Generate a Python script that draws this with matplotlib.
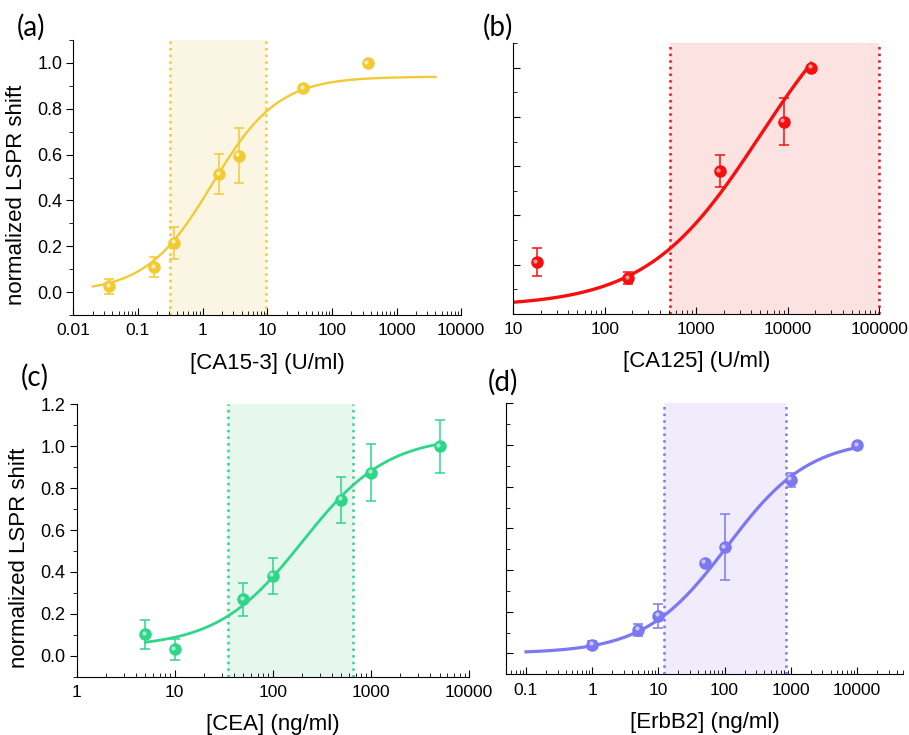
import numpy as np
import matplotlib
matplotlib.use("Agg")
import matplotlib.pyplot as plt
from matplotlib.ticker import LogLocator, FixedLocator, FuncFormatter, MultipleLocator
from matplotlib.transforms import offset_copy

plt.rcParams['font.family'] = ['Liberation Sans', 'DejaVu Sans']

# (a) CA15-3
a_conc = [0.036, 0.18, 0.36, 1.8, 3.6, 36, 360]
a_shift = [0.025, 0.11, 0.215, 0.515, 0.595, 0.89, 1.0]
a_err = [0.033, 0.045, 0.069, 0.087, 0.12, 0.0, 0.0]
a_fit = (0.0, 0.94, 1.4, 0.85)      # A1, A2, k, n (Hill fit)
a_fit_span = (0.02, 4000)
a_linear = (0.31, 9.5)

# (b) CA125
b_conc = [18, 180, 1800, 9000, 18000]
b_shift = [0.21, 0.146, 0.58, 0.78, 1.0]
b_err = [0.056, 0.025, 0.064, 0.096, 0.0]
b_fit = (0.03, 1.42, 5000, 0.7)
b_fit_span = (10, 18000)
b_linear = (520, 100000)

# (c) CEA
c_conc = [5, 10, 50, 100, 500, 1000, 5000]
c_shift = [0.102, 0.03, 0.27, 0.382, 0.744, 0.874, 1.0]
c_err = [0.07, 0.05, 0.078, 0.085, 0.11, 0.137, 0.127]
c_fit = (0.04, 1.05, 200, 1.0)
c_fit_span = (5, 5000)
c_linear = (35, 650)

# (d) ErbB2
d_conc = [1, 5, 10, 50, 100, 1000, 10000]
d_shift = [0.042, 0.113, 0.181, 0.436, 0.511, 0.833, 1.0]
d_err = [0.02, 0.028, 0.057, 0.0, 0.158, 0.035, 0.0]
d_fit = (0.0, 1.03, 110, 0.7)
d_fit_span = (0.1, 10000)
d_linear = (12, 850)


def hill(x, p):
    a1, a2, k, n = p
    return a1 + (a2 - a1) * x**n / (k**n + x**n)


def fmt(v, pos):
    return ('%f' % v).rstrip('0').rstrip('.')


fig = plt.figure(figsize=(9.09, 7.35), dpi=100)


def panel(rect, conc, shift, err, fit, span, linear, color, shade, light,
          xlim, ylim, yticks, xlabel, show_y, lw, ydir):
    ax = fig.add_axes(rect)
    ax.axvspan(linear[0], linear[1], color=shade, zorder=0, lw=0)
    for v in linear:
        ax.axvline(v, color=color, ls=':', lw=1.8, zorder=1, clip_on=False)
    xs = np.logspace(np.log10(span[0]), np.log10(span[1]), 300)
    ax.plot(xs, hill(xs, fit), color=color, lw=lw, zorder=2)
    ax.errorbar(conc, shift, yerr=err, fmt='o', color=color, ms=8,
                mec=color, elinewidth=1.1, capsize=3.5, capthick=1.1, zorder=3)
    hl = offset_copy(ax.transData, fig=fig, x=-1.0, y=1.0, units='points')
    ax.plot(conc, shift, 'o', ms=3, color=light, mec='none', transform=hl, zorder=4)

    ax.set_xscale('log')
    ax.set_xlim(*xlim)
    ax.set_ylim(*ylim)
    ax.xaxis.set_major_locator(LogLocator(base=10, numticks=20))
    ax.xaxis.set_minor_locator(LogLocator(base=10, subs=np.arange(2, 10), numticks=20))
    ax.xaxis.set_major_formatter(FuncFormatter(fmt))
    ax.yaxis.set_major_locator(FixedLocator(yticks))
    ax.yaxis.set_minor_locator(MultipleLocator(0.1))
    for s in ['top', 'right']:
        ax.spines[s].set_visible(False)
    ax.tick_params(axis='x', which='major', direction='in', length=5, pad=6, labelsize=12.5)
    ax.tick_params(axis='x', which='minor', direction='in', length=3)
    ax.tick_params(axis='y', which='major', direction=ydir, length=5, pad=3, labelsize=13)
    ax.tick_params(axis='y', which='minor', direction=ydir, length=3)
    if show_y:
        ax.yaxis.set_major_formatter(FuncFormatter(lambda v, p: '%.1f' % v))
        ax.set_ylabel('normalized LSPR shift', fontsize=16)
        ax.yaxis.set_label_coords(-0.12, 0.436)
    else:
        ax.set_yticklabels([])
    ax.set_xlabel(xlabel, fontsize=16, va='top')
    ax.xaxis.set_label_coords(0.5, -0.138)
    return ax


panel([0.0807, 0.5714, 0.4266, 0.3742], a_conc, a_shift, a_err, a_fit, a_fit_span, a_linear,
      '#F2CA33', '#FBF6E4', '#FBEFB8', (0.01, 10000), (-0.1, 1.1),
      [0.0, 0.2, 0.4, 0.6, 0.8, 1.0], '[CA15-3] (U/ml)', True, 1.7, 'out')
panel([0.5647, 0.5728, 0.4026, 0.3687], b_conc, b_shift, b_err, b_fit, b_fit_span, b_linear,
      '#F50F0F', '#FDE2E2', '#FF9A9A', (10, 100000), (0.0, 1.1),
      [0.2, 0.4, 0.6, 0.8, 1.0], '[CA125] (U/ml)', False, 2.4, 'in')
panel([0.0844, 0.0793, 0.4316, 0.3706], c_conc, c_shift, c_err, c_fit, c_fit_span, c_linear,
      '#2ED68A', '#E6F8EE', '#A8F0CC', (1, 10000), (-0.1, 1.2),
      [0.0, 0.2, 0.4, 0.6, 0.8, 1.0, 1.2], '[CEA] (ng/ml)', True, 2.0, 'out')
panel([0.5567, 0.0826, 0.4370, 0.3687], d_conc, d_shift, d_err, d_fit, d_fit_span, d_linear,
      '#7B78F2', '#F1ECFC', '#C9C7FB', (0.05, 50000), (-0.1, 1.2),
      [0.0, 0.2, 0.4, 0.6, 0.8, 1.0, 1.2], '[ErbB2] (ng/ml)', False, 2.3, 'in')

for lab, x, y in [('(a)', 0.034, 0.963), ('(b)', 0.548, 0.963),
                  ('(c)', 0.0385, 0.487), ('(d)', 0.553, 0.480)]:
    fig.text(x, y, lab, fontsize=20, ha='center', va='center',
             family=['Lato', 'DejaVu Sans'])

fig.savefig('out.png', dpi=100)
